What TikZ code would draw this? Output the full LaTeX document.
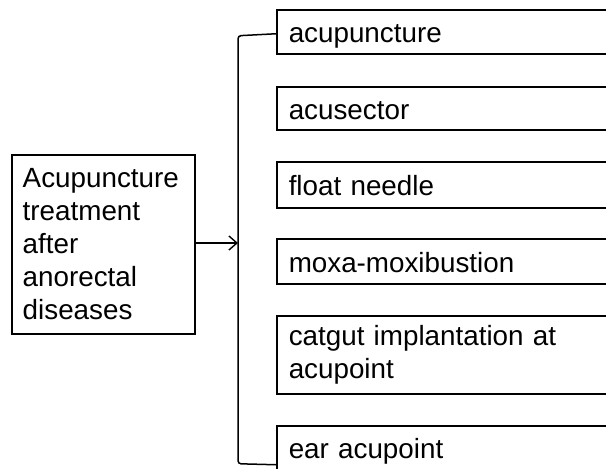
\documentclass[tikz,border=0pt]{standalone}
\usepackage{fontspec}
\setmainfont{Liberation Sans}
\usetikzlibrary{arrows.meta,calc}
\begin{document}
\begin{tikzpicture}[x=1pt,y=-1pt,
  box/.style={draw=black,line width=1.5pt,rectangle,anchor=north west,inner xsep=11pt,inner ysep=0pt,align=left,font=\fontsize{27.8}{33}\selectfont},
  rbox/.style={box,minimum width=340pt,text width=316pt},
  one/.style={text height=28pt,text depth=6pt},
  conn/.style={draw=black,line width=1.5pt}]
\clip (0,0) rectangle (606,469);
\fill[white] (0,0) rectangle (606,469);
\node[box,minimum height=179pt,text width=161pt] (src) at (11,154) {Acupuncture\\treatment\\after\\anorectal\\diseases};
\node[rbox,one,minimum height=44pt] (b1) at (276,9) {acupuncture};
\node[rbox,one,minimum height=43pt] (b2) at (276,86) {acusector};
\node[rbox,one,minimum height=46pt] (b3) at (276,161) {float needle};
\node[rbox,one,minimum height=45pt] (b4) at (276,238) {moxa-moxibustion};
\node[rbox,minimum height=78pt] (b5) at (276,315) {catgut implantation at\\acupoint};
\node[rbox,one,minimum height=44pt] (b6) at (276,425) {ear acupoint};
\coordinate (br) at (238,243);
\draw[conn,-{Straight Barb[length=8pt,width=14pt,line width=1.4pt]}] (src.east |- br) -- (br);
\draw[conn,rounded corners=3pt] ([yshift=-2pt]b1.west) -- ($(br |- b1.west)+(0,4)$) -- ($(br |- b6.west)+(0,16)$) -- ([yshift=-17pt]b6.west);
\end{tikzpicture}
\end{document}
